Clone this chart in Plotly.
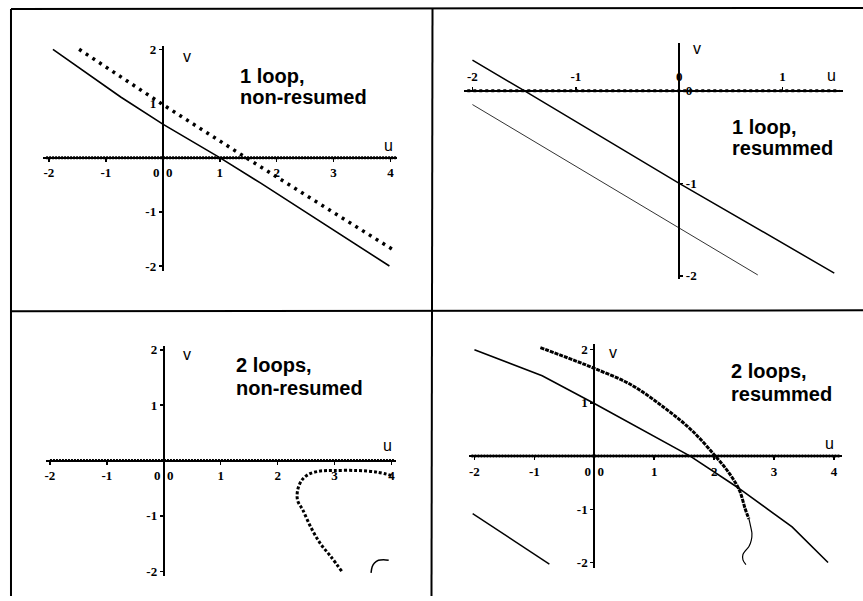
import plotly.graph_objects as go

W, H = 863, 601

# ---------------- data ----------------
# Panel 1: 1 loop, non-resumed
p1_solid_u = [-1.93, -0.74, 0.0, 1.0, 1.72, 2.65, 3.98]
p1_solid_v = [2.0, 1.12, 0.62, 0.0, -0.47, -1.10, -2.0]
p1_dot_u = [-1.47, 0.0, 1.46, 4.03]
p1_dot_v = [2.0, 0.98, 0.0, -1.69]
p1_axis_u = [-2.05, 4.1]
p1_axis_v = [0.0, 0.0]

# Panel 2: 1 loop, resummed
p2_upper_u = [-2.0, -1.5, 0.0, 1.5]
p2_upper_v = [0.33, 0.0, -1.0, -1.97]
p2_lower_u = [-2.0, 0.0, 0.76]
p2_lower_v = [-0.15, -1.48, -1.99]
p2_axis_u = [-2.05, 1.55]
p2_axis_v = [0.0, 0.0]

# Panel 3: 2 loops, non-resumed
p3_curve_u = [4.0, 3.75, 3.4, 2.98, 2.75, 2.54, 2.42, 2.35, 2.35, 2.44, 2.58, 2.75, 2.93, 3.14]
p3_curve_v = [-0.27, -0.21, -0.18, -0.18, -0.19, -0.25, -0.36, -0.54, -0.72, -0.89, -1.2, -1.5, -1.73, -2.02]
p3_arc_u = [3.64, 3.66, 3.70, 3.77, 3.86, 3.95]
p3_arc_v = [-2.03, -1.92, -1.85, -1.80, -1.79, -1.80]
p3_axis_u = [-2.0, 4.05]
p3_axis_v = [0.0, 0.0]

# Panel 4: 2 loops, resummed
p4_solid_u = [-2.0, -0.87, 0.0, 1.0, 1.6, 2.38, 3.3, 3.9]
p4_solid_v = [2.0, 1.51, 0.99, 0.37, 0.0, -0.58, -1.33, -2.0]
p4_low_u = [-2.03, -0.75]
p4_low_v = [-1.08, -2.03]
p4_dot_u = [-0.9, -0.45, 0.0, 0.6, 1.18, 1.63, 2.02, 2.25, 2.42, 2.52, 2.58]
p4_dot_v = [2.04, 1.85, 1.65, 1.35, 0.9, 0.48, 0.0, -0.32, -0.64, -1.0, -1.18]
p4_tail_u = [2.58, 2.61, 2.63, 2.62, 2.58, 2.52, 2.48, 2.48, 2.53]
p4_tail_v = [-1.18, -1.33, -1.45, -1.58, -1.7, -1.78, -1.85, -1.95, -2.04]
p4_axis_u = [-2.05, 4.1]
p4_axis_v = [0.0, 0.0]

x_ticks_full = [-2, -1, 0, 1, 2, 3, 4]
x_text_full = ["-2", "-1", "0\u00a0\u00a00", "1", "2", "3", "4"]
y_ticks_full = [-2, -1, 1, 2]
y_text_full = ["-2", "-1", "1", "2"]
x_ticks_p2 = [-2, -1, 0, 1]
x_text_p2 = ["-2", "-1", "0", "1"]
y_ticks_p2 = [0, -1, -2]
y_text_p2 = ["0", "-1", "-2"]

titles = [["1 loop,", "non-resumed"], ["1 loop,", "resummed"],
          ["2 loops,", "non-resumed"], ["2 loops,", "resummed"]]

# ---------------- layout geometry (pixels) ----------------
panels = [
    dict(x0=162, sx=57, y0=156, sy=55, ur=[-2.1, 4.12], vr=[-2.1, 2.06],
         xt=(x_ticks_full, x_text_full, "bottom"), yt=(y_ticks_full, y_text_full, "left"),
         title_xy=(237, 73, 94), v_xy=(186, 53), u_xy=(388, 144)),
    dict(x0=679, sx=103.5, y0=88, sy=94, ur=[-2.08, 1.58], vr=[-2.03, 0.51],
         xt=(x_ticks_p2, x_text_p2, "top"), yt=(y_ticks_p2, y_text_p2, "right"),
         title_xy=(730, 125, 146), v_xy=(697, 45), u_xy=(831, 73)),
    dict(x0=163, sx=57, y0=463.5, sy=56.2, ur=[-2.07, 4.08], vr=[-2.08, 2.07],
         xt=(x_ticks_full, x_text_full, "bottom"), yt=(y_ticks_full, y_text_full, "left"),
         title_xy=(233, 366, 390), v_xy=(186, 356), u_xy=(387, 448)),
    dict(x0=594, sx=60, y0=459, sy=54, ur=[-2.09, 4.13], vr=[-2.1, 2.1],
         xt=(x_ticks_full, x_text_full, "bottom"), yt=(y_ticks_full, y_text_full, "left"),
         title_xy=(729, 373, 396), v_xy=(613, 354), u_xy=(829, 446)),
]

def fx(p):
    return p / W

def fy(p):
    return 1 - p / H

fig = go.Figure()
tickfont = dict(family="Liberation Serif", size=13, color="black", weight="bold")

layout_axes = {}
annotations = []
for i, P in enumerate(panels):
    n = "" if i == 0 else str(i + 1)
    xd = [fx(P["x0"] + P["ur"][0] * P["sx"]), fx(P["x0"] + P["ur"][1] * P["sx"])]
    yd = [fy(P["y0"] - P["vr"][0] * P["sy"]), fy(P["y0"] - P["vr"][1] * P["sy"])]
    tv, tt, side = P["xt"]
    layout_axes["xaxis" + n] = dict(
        domain=xd, range=P["ur"], anchor="free", position=fy(P["y0"]), side=side,
        showline=True, linewidth=2, linecolor="black", showgrid=False, zeroline=False,
        ticks="outside", ticklen=3, tickwidth=1.5, tickcolor="black",
        tickmode="array", tickvals=tv, ticktext=tt, tickfont=tickfont, ticklabelstandoff=0)
    tv, tt, side = P["yt"]
    layout_axes["yaxis" + n] = dict(
        domain=yd, range=P["vr"], anchor="free", position=fx(P["x0"]), side=side,
        showline=True, linewidth=2, linecolor="black", showgrid=False, zeroline=False,
        ticks="outside", ticklen=3, tickwidth=1.5, tickcolor="black",
        tickmode="array", tickvals=tv, ticktext=tt, tickfont=tickfont, ticklabelstandoff=0)
    tx, ty1, ty2 = P["title_xy"]
    for txt, ty in zip(titles[i], (ty1, ty2)):
        annotations.append(dict(text="<b>" + txt + "</b>", x=fx(tx), y=fy(ty), xref="paper", yref="paper",
                                xanchor="left", yanchor="middle", showarrow=False,
                                font=dict(family="Liberation Sans", size=20, color="black")))
    for lab, (lx, ly) in (("v", P["v_xy"]), ("u", P["u_xy"])):
        annotations.append(dict(text=lab, x=fx(lx), y=fy(ly), xref="paper", yref="paper",
                                xanchor="center", yanchor="middle", showarrow=False,
                                font=dict(family="Liberation Sans", size=16, color="black")))

def add(u, v, k, width=1.6, dash="solid", color="black", shape="linear"):
    xa = "x" if k == 1 else "x%d" % k
    ya = "y" if k == 1 else "y%d" % k
    fig.add_trace(go.Scatter(x=u, y=v, xaxis=xa, yaxis=ya, mode="lines",
                             line=dict(color=color, width=width, dash=dash, shape=shape),
                             hoverinfo="skip", showlegend=False))

# panel 1
add(p1_axis_u, p1_axis_v, 1, width=3, dash="2px,1px")
add(p1_solid_u, p1_solid_v, 1, width=1.6)
add(p1_dot_u, p1_dot_v, 1, width=3.5, dash="3px,5px")
# panel 2
add(p2_axis_u, p2_axis_v, 2, width=3, dash="3px,3px")
add(p2_upper_u, p2_upper_v, 2, width=1.5)
add(p2_lower_u, p2_lower_v, 2, width=1, color="#333333")
# panel 3
add(p3_axis_u, p3_axis_v, 3, width=3, dash="2px,1px")
add(p3_curve_u, p3_curve_v, 3, width=3, dash="3px,2px", shape="spline")
add(p3_arc_u, p3_arc_v, 3, width=1.5, shape="spline")
# panel 4
add(p4_axis_u, p4_axis_v, 4, width=3, dash="2px,1px")
add(p4_solid_u, p4_solid_v, 4, width=1.6)
add(p4_low_u, p4_low_v, 4, width=1.4)
add(p4_dot_u, p4_dot_v, 4, width=3, dash="4px,1px", shape="spline")
add(p4_tail_u, p4_tail_v, 4, width=1.2, shape="spline")

# frame lines of the figure
frame = [
    (10, 5, 863, 4),     # top border
    (10, 5, 10, 601),    # left border
    (432, 5, 431, 601),  # middle divider
    (10, 312, 863, 311), # horizontal divider
]
shapes = [dict(type="line", xref="paper", yref="paper", x0=fx(a), y0=fy(b), x1=fx(c), y1=fy(d),
               line=dict(color="black", width=2)) for a, b, c, d in frame]

fig.update_layout(width=W, height=H, margin=dict(l=0, r=0, t=0, b=0),
                  paper_bgcolor="white", plot_bgcolor="rgba(0,0,0,0)",
                  showlegend=False, annotations=annotations, shapes=shapes, **layout_axes)

fig.write_html("out.html", config={"displayModeBar": False, "staticPlot": True},
               post_script="document.body.style.margin='0';")
